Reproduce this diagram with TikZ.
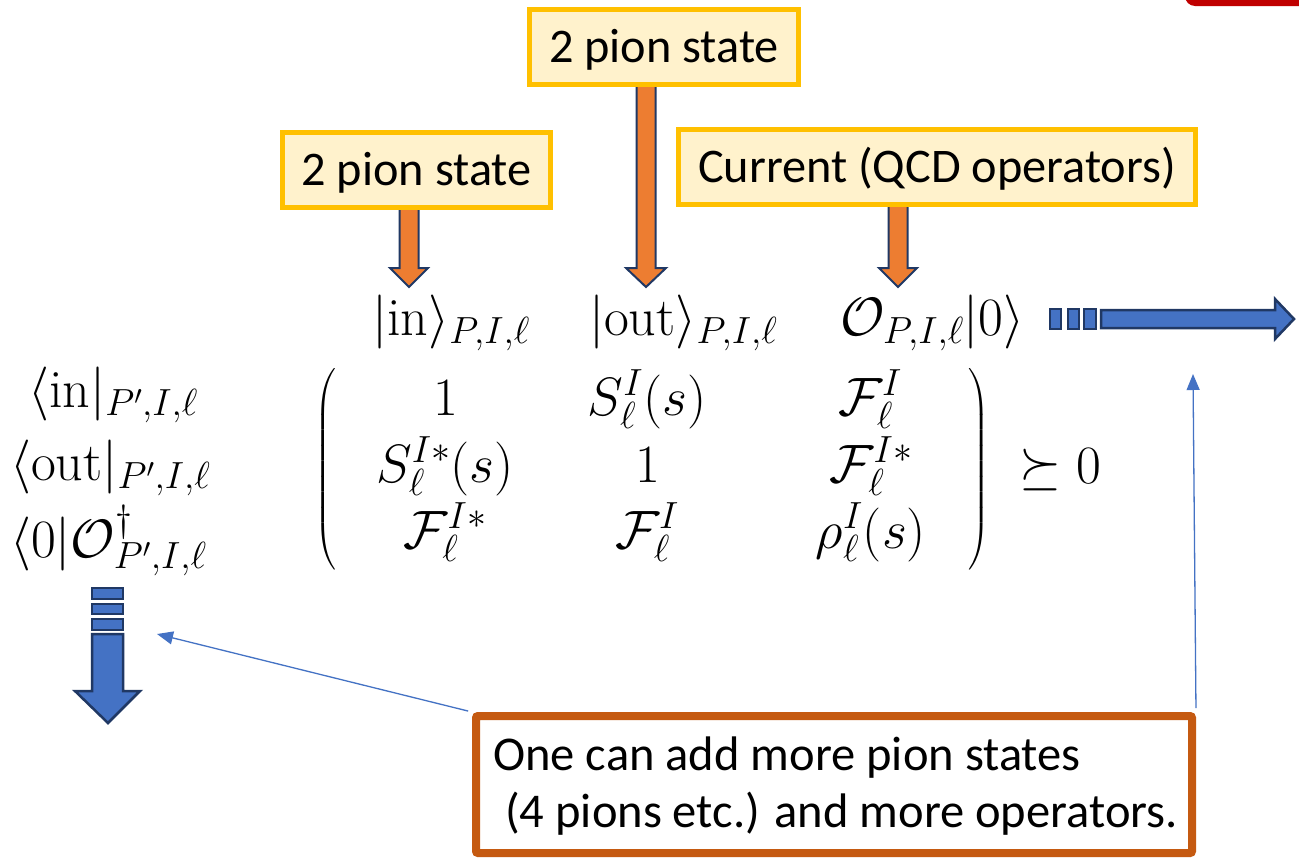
\RequirePackage{fix-cm}
\documentclass[tikz,border=0pt]{standalone}
\usepackage{exscale}
\usepackage{fontspec}
\newfontfamily\carlito{Carlito}
\usetikzlibrary{arrows.meta}
\definecolor{boxyellow}{HTML}{FFC000}
\definecolor{boxfill}{HTML}{FFF2CC}
\definecolor{arroworange}{HTML}{ED7D31}
\definecolor{arrowblue}{HTML}{4472C4}
\definecolor{navy}{HTML}{203864}
\definecolor{noteorange}{HTML}{C55A11}
\definecolor{tabred}{HTML}{C00000}
\delimiterfactor=1000
\delimitershortfall=0pt
\tikzset{
  pionbox/.style={draw=boxyellow, fill=boxfill, line width=5pt, inner sep=0pt,
    text height=33pt, text depth=3pt,
    font=\carlito\fontsize{48.3}{57}\selectfont, text=black},
  notebox/.style={draw=noteorange, line width=8pt, rounded corners=2pt, inner sep=0pt},
  notetext/.style={font=\carlito\fontsize{48.5}{57}\selectfont, inner sep=0pt, anchor=base west},
  mathlbl/.style={font=\fontsize{54}{64}\selectfont, inner sep=0pt, anchor=base},
  parenlbl/.style={font=\fontsize{54}{64}\selectfont, inner sep=0pt},
  orangearrow/.style={fill=arroworange, draw=navy, line width=2pt, line join=miter},
  bluearrow/.style={fill=arrowblue, draw=navy, line width=2.5pt, line join=miter},
  pointer/.style={draw=arrowblue, line width=1.3pt, -{Triangle[length=16pt,width=13pt]}},
}
\begin{document}
\begin{tikzpicture}[x=1pt,y=-1pt]
\useasboundingbox (0,0) rectangle (1299,860);
\fill[white] (0,0) rectangle (1299,860);

% red tab in the upper right corner
\begin{scope}
  \clip (0,0) rectangle (1299,860);
  \fill[tabred, rounded corners=10pt] (1185,-20) rectangle (1320,6);
\end{scope}

% orange block arrows from the labels down to the states
\draw[orangearrow] (399.5,206) -- (418.5,206) -- (418.5,268) -- (428,268) -- (409,287) -- (390,268) -- (399.5,268) -- cycle;
\draw[orangearrow] (636.5,84) -- (655.5,84) -- (655.5,268) -- (666,268) -- (646,287) -- (626,268) -- (636.5,268) -- cycle;
\draw[orangearrow] (888.5,204) -- (907.5,204) -- (907.5,268) -- (917,268) -- (898,287) -- (879,268) -- (888.5,268) -- cycle;

% label boxes
\node[pionbox, minimum width=268pt, minimum height=75pt] (pionA) at (416.5,170) {2 pion state};
\node[pionbox, minimum width=269pt, minimum height=75pt] (pionB) at (664,47) {2 pion state};
\node[pionbox, minimum width=517pt, minimum height=75pt] (current) at (937,167) {Current (QCD operators)};

% column states
\node[mathlbl, anchor=base west] (ketIn) at (372,335) {$|\mathrm{in}\rangle_{P,I,\ell}$};
\node[mathlbl, anchor=base west] (ketOut) at (589,335) {$|\mathrm{out}\rangle_{P,I,\ell}$};
\node[mathlbl, anchor=base west] (ketOp) at (840,335) {$\mathcal{O}_{P,I,\ell}|0\rangle$};

% row states
\node[mathlbl, anchor=base west] (braIn) at (28,407) {$\langle\mathrm{in}|_{P',I,\ell}$};
\node[mathlbl, anchor=base west] (braOut) at (10,480) {$\langle\mathrm{out}|_{P',I,\ell}$};
\node[mathlbl, anchor=base west] (braOp) at (10,557) {$\langle 0|\mathcal{O}^{\dagger}_{P',I,\ell}$};

% matrix entries
\node[mathlbl] (m11) at (446,415) {$1$};
\node[mathlbl] (m12) at (647,415) {$S^{I}_{\ell}(s)$};
\node[mathlbl] (m13) at (870,415) {$\mathcal{F}^{I}_{\ell}$};
\node[mathlbl] (m21) at (445,482) {$S^{I*}_{\ell}(s)$};
\node[mathlbl] (m22) at (648,482) {$1$};
\node[mathlbl] (m23) at (871,482) {$\mathcal{F}^{I*}_{\ell}$};
\node[mathlbl] (m31) at (445,548) {$\mathcal{F}^{I*}_{\ell}$};
\node[mathlbl] (m32) at (647,548) {$\mathcal{F}^{I}_{\ell}$};
\node[mathlbl] (m33) at (871,548) {$\rho^{I}_{\ell}(s)$};

% parentheses and positivity
\node[parenlbl] (lparen) at (326,469)
  {\scalebox{1}[1.04]{$\left(\vcenter{\hrule height 180pt width 0pt}\right.$}};
\node[parenlbl] (rparen) at (979,469)
  {\scalebox{1}[1.04]{$\left.\vcenter{\hrule height 180pt width 0pt}\right)$}};
\node[mathlbl, anchor=base west] (psd) at (1019,483) {$\succeq 0$};

% dashed-tail blue arrow to the right
\draw[bluearrow] (1050,309) rectangle (1061,329);
\draw[bluearrow] (1068,309) rectangle (1079,329);
\draw[bluearrow] (1084,309) rectangle (1096,329);
\draw[bluearrow] (1101,310) -- (1275,310) -- (1275,299) -- (1294,319) -- (1275,339) -- (1275,328) -- (1101,328) -- cycle;

% dashed-tail blue arrow downward
\draw[bluearrow] (92,588) rectangle (123,599);
\draw[bluearrow] (92,604) rectangle (123,614);
\draw[bluearrow] (92,619) rectangle (123,630);
\draw[bluearrow] (92,634) -- (123,634) -- (123,691) -- (140,691) -- (108,723) -- (75,691) -- (92,691) -- cycle;

% note box with pointers
\node[notebox, minimum width=716pt, minimum height=137pt] (note) at (834,784.5) {};
\coordinate (tipL) at (157,634);
\coordinate (tipR) at (1193,374);
\draw[pointer, shorten <=4pt] (note.north west) -- (tipL);
\draw[pointer, shorten <=4pt] (note.north east) -- (tipR);
\node[notetext] (noteA) at (493,770) {One can add more pion states};
\node[notetext] (noteB) at (505,827) {(4 pions etc.) and more operators.};
\end{tikzpicture}
\end{document}
